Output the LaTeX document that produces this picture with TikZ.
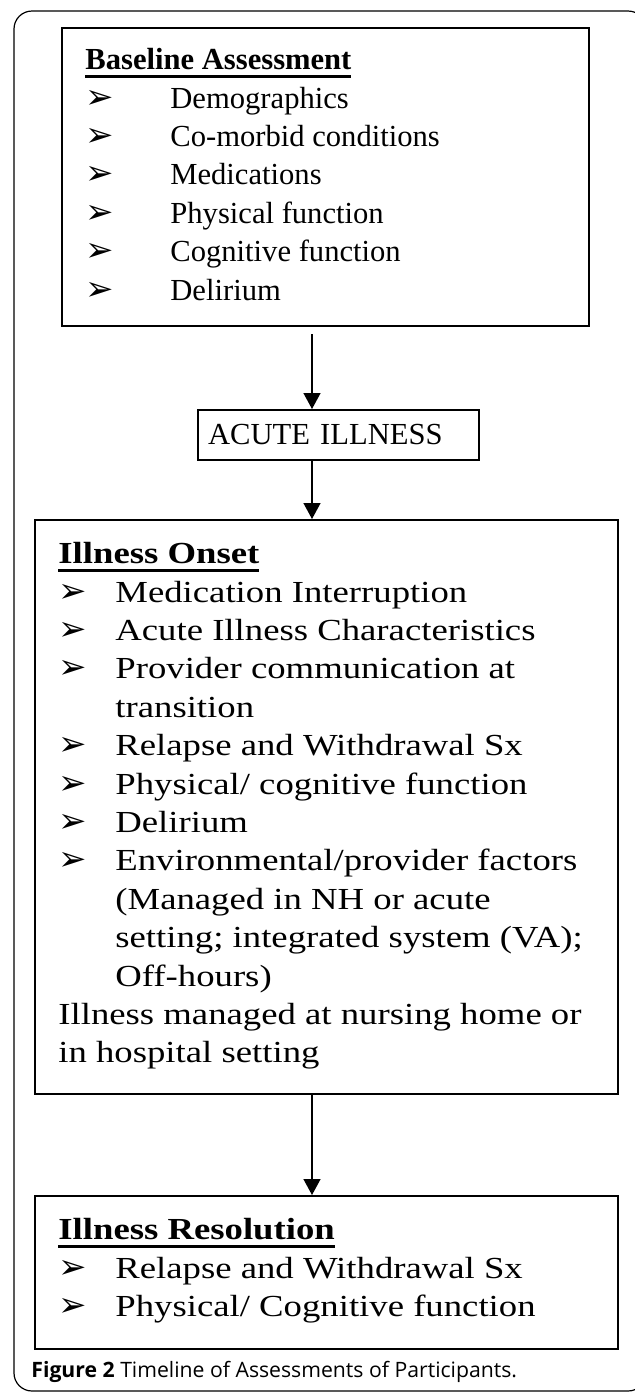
\documentclass[tikz,border=0pt]{standalone}
\usepackage{fontspec}
\setmainfont{Liberation Serif}
\newfontfamily\widefont[FakeStretch=1.2]{Liberation Serif}
\newfontfamily\symfont{DejaVu Sans}
\newfontfamily\capfont{Open Sans}
\usetikzlibrary{arrows.meta,positioning,calc}

\newlength{\itmw}
\newcommand{\bul}{{\symfont\fontsize{17}{17}\selectfont ➢}}
\newcommand{\itm}[1]{\makebox[\itmw][l]{\bul}#1}
\newcommand{\cnt}[1]{\hspace*{\itmw}#1}
\newcommand{\boxhead}[1]{\setbox0\hbox{\bfseries #1}\rlap{\rule[-4.2pt]{\wd0}{1.5pt}}\box0}

\tikzset{
  stage/.style={draw,line width=1pt,inner sep=0pt,anchor=north west},
  stagetext/.style={anchor=north west,inner sep=0pt,align=left,
                    font=\fontsize{15.3}{19.2}\selectfont},
  widelist/.style={execute at begin node={\setlength{\itmw}{42.5pt}}},
  narrowlist/.style={font=\widefont\fontsize{15.3}{19.2}\selectfont,
                     execute at begin node={\setlength{\itmw}{28.5pt}}},
  flow/.style={-{Triangle[width=8.5pt,length=8pt]},line width=0.7pt}
}

\begin{document}
\begin{tikzpicture}[x=0.5pt,y=-0.5pt]
  \useasboundingbox (0,0) rectangle (635,1393);
  % outer frame
  \draw[line width=0.6pt,rounded corners=9pt] (14,11) rectangle (646,1391);

  % stages
  \node[stage,minimum width=263.5pt,minimum height=149pt] (base) at (61,27) {};
  \node[stagetext,widelist] (basetext) at ([xshift=12pt,yshift=-10.5pt]base.north west)
    {\boxhead{Baseline Assessment}\\
     \itm{Demographics}\\
     \itm{Co-morbid conditions}\\
     \itm{Medications}\\
     \itm{Physical function}\\
     \itm{Cognitive function}\\
     \itm{Delirium}};

  \node[stage,text width=130.5pt,inner xsep=5pt,minimum height=25pt,align=left,
        font=\fontsize{15.3}{19.2}\selectfont] (acute) at (197,409) {ACUTE ILLNESS};

  \node[stage,minimum width=291.5pt,minimum height=287pt] (onset) at (34,519) {};
  \node[stagetext,narrowlist] (onsettext) at ([xshift=12pt,yshift=-11.5pt]onset.north west)
    {\boxhead{Illness Onset}\\
     \itm{Medication Interruption}\\
     \itm{Acute Illness Characteristics}\\
     \itm{Provider communication at}\\
     \cnt{transition}\\
     \itm{Relapse and Withdrawal Sx}\\
     \itm{Physical/ cognitive function}\\
     \itm{Delirium}\\
     \itm{Environmental/provider factors}\\
     \cnt{(Managed in NH or acute}\\
     \cnt{setting; integrated system (VA);}\\
     \cnt{Off-hours)}\\
     Illness managed at nursing home or\\
     in hospital setting};

  \node[stage,minimum width=291.5pt,minimum height=76.5pt] (resolution) at (34,1195) {};
  \node[stagetext,narrowlist] (resolutiontext) at ([xshift=12pt,yshift=-11.5pt]resolution.north west)
    {\boxhead{Illness Resolution}\\
     \itm{Relapse and Withdrawal Sx}\\
     \itm{Physical/ Cognitive function}};

  % timeline arrows
  \coordinate (spine) at (312,0);
  \draw[flow,shorten <=3.5pt] (base.south -| spine) -- (acute.north -| spine);
  \draw[flow] (acute.south -| spine) -- (onset.north -| spine);
  \draw[flow] (onset.south -| spine) -- (resolution.north -| spine);

  \node[anchor=base west,inner sep=0pt,font=\capfont\fontsize{10.6}{12}\selectfont] (caption)
    at (31,1377) {\textbf{Figure 2} Timeline of Assessments of Participants.};
\end{tikzpicture}
\end{document}
